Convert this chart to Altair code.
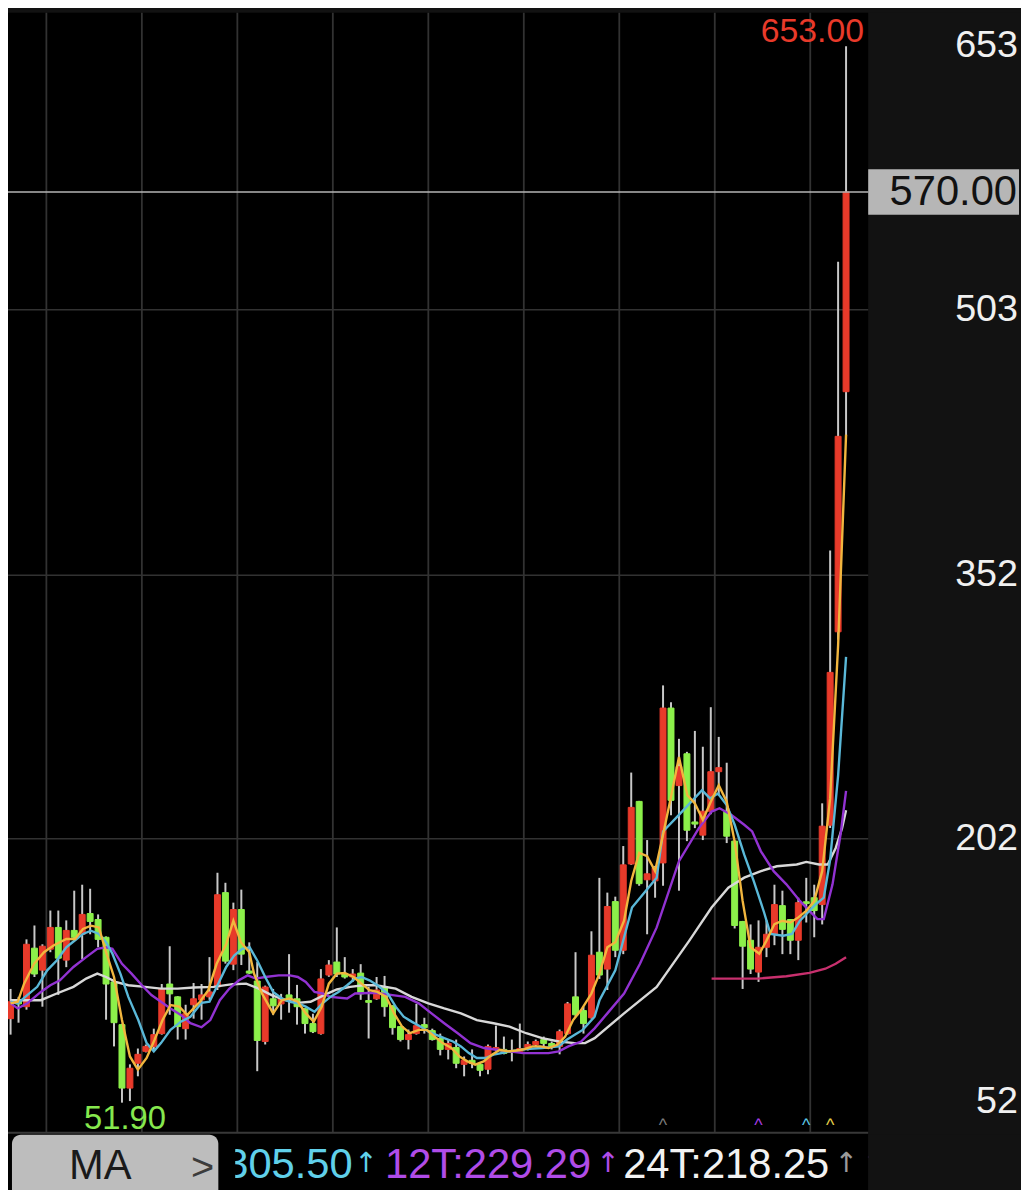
import altair as alt
import pandas as pd

# ---------------- data ----------------
opens = [99.7,110.4,106.5,139.8,127.3,139.2,151.6,133.0,149.9,147.7,
         159.5,156.1,146.0,120.6,96.3,60.2,74.3,81.1,83.9,91.2,
         119.4,112.1,94.0,107.6,110.4,112.1,117.7,171.4,130.7,161.8,
         126.8,121.1,86.7,111.0,108.1,113.2,111.0,105.3,96.9,91.2,
         124.5,131.9,125.1,123.4,125.6,110.0,111.0,117.7,107.0,95.2,
         87.8,91.2,96.3,92.9,88.4,82.2,83.3,73.7,76.0,73.7,
         70.9,82.2,82.2,80.5,81.1,82.7,85.0,87.8,85.6,83.9,
         91.2,112.1,104.3,100.2,137.5,127.9,166.3,138.6,187.7,223.3,
         178.7,178.1,188.3,276.4,232.3,250.4,211.6,204.1,217.7,240.2,
         217.7,200.7,155.0,144.3,126.2,140.3,147.7,164.0,156.1,144.3,
         166.2,168.5,164.6,209.8,319.8,456.4]
highs = [116.6,112.1,144.8,152.7,142.0,161.2,161.2,155.6,172.5,175.9,
         173.6,159.0,146.5,121.0,96.8,73.7,82.7,85.0,94.0,119.4,
         140.9,112.5,107.6,120.0,119.4,134.7,182.7,177.0,165.7,173.1,
         143.1,131.9,118.5,116.6,113.8,136.4,118.9,105.6,102.5,127.9,
         133.0,151.6,134.7,127.9,130.7,117.7,123.4,124.0,107.3,95.5,
         93.5,108.1,100.2,94.0,91.2,87.8,87.8,78.2,82.2,74.3,
         85.0,95.7,89.5,87.8,96.9,86.7,87.8,89.5,86.7,93.5,
         109.2,137.5,106.5,149.4,179.8,171.4,169.1,197.9,239.7,223.6,
         201.3,186.6,289.3,279.7,258.9,251.5,263.4,254.4,276.9,260.0,
         245.3,201.0,155.3,153.3,155.6,155.6,175.9,172.5,156.4,168.5,
         179.8,175.9,222.2,366.1,530.4,653.0]
lows = [90.6,97.4,104.8,123.4,106.5,137.5,113.2,129.0,145.0,133.6,
        147.7,140.3,99.1,83.9,51.9,52.8,66.9,80.5,82.2,90.6,
        101.9,87.8,87.8,99.7,99.1,110.4,116.0,131.0,127.3,130.2,
        125.0,69.8,85.0,101.9,99.1,103.1,96.3,91.2,91.5,90.6,
        123.5,123.4,122.5,120.6,110.4,88.4,110.4,100.8,90.6,86.7,
        82.2,90.6,91.2,87.2,78.8,76.5,71.5,66.9,71.5,66.9,
        68.1,81.1,79.4,75.4,80.5,81.6,83.9,82.7,82.2,79.4,
        90.6,100.8,91.2,99.7,122.3,116.0,134.7,136.4,187.2,175.3,
        147.7,168.5,175.3,215.4,172.5,200.7,208.1,201.3,216.0,226.7,
        199.6,151.0,116.6,125.1,120.6,134.7,141.5,136.4,136.4,133.0,
        154.4,146.0,153.3,208.1,315.3,431.0]
closes = [109.3,108.1,142.0,125.1,140.9,151.6,134.1,149.9,146.0,159.0,
          155.0,144.8,119.4,97.4,60.2,71.5,79.4,83.9,90.6,116.6,
          113.8,95.2,102.5,111.0,113.2,114.9,170.2,132.4,161.8,136.4,
          125.6,87.3,117.7,107.0,111.0,111.0,106.5,96.9,92.3,122.3,
          130.2,125.1,123.4,125.1,113.8,109.0,116.0,106.5,94.6,87.8,
          90.6,95.7,94.6,87.8,82.2,85.6,74.3,76.0,74.3,70.3,
          83.9,83.3,79.9,81.6,82.7,85.0,86.7,85.6,83.9,92.3,
          108.1,101.9,96.9,135.8,124.5,163.5,138.6,187.2,219.9,176.5,
          182.1,185.5,276.4,223.9,243.1,206.9,210.4,217.7,240.2,242.5,
          203.5,152.7,140.9,127.9,140.3,147.7,164.6,150.5,144.3,165.7,
          165.2,161.2,209.2,296.7,431.0,570.0]

# moving-average lines (position in candles, value)
ma3_t = [0,0.9,1.7,2.95,4.2,5.4,7.0,8.1,9.1,10.1,11.1,12.0,13.0,14.0,15.0,16.0,17.1,18.1,19.1,20.1,
         21.2,22.2,23.2,23.8,24.85,25.9,27.1,28.0,28.95,30.0,30.6,31.6,33.0,34.1,35.1,36.1,37.1,38.1,39.1,40.0,
         41.0,42.0,43.1,44.1,45.1,46.1,47.2,48.2,49.2,50.2,51.3,52.3,53.3,54.3,55.4,56.4,57.4,58.4,59.45,60.5,
         61.5,62.5,63.55,64.6,65.6,66.6,67.6,68.7,69.7,70.7,71.7,73.0,74.0,75.0,76.0,77.1,78.0,79.0,80.0,81.0,
         82.0,83.0,84.0,85.05,86.0,87.0,88.0,89.0,90.0,91.0,92.0,93.0,94.1,95.0,96.0,97.0,98.0,99.0,100.0,101.0,
         102.0,103.0,104.0,105.0]
ma3_v = [108.4,109.3,119.6,130.9,137.5,141.3,145.0,145.0,150.7,152.6,151.6,137.5,123.4,98.9,78.2,70.7,77.3,87.7,98.9,107.4,
         106.5,101.8,106.5,109.3,115.9,130.9,142.2,155.4,143.2,137.5,125.3,114.0,102.7,110.2,111.2,109.3,102.7,98.0,106.5,119.6,
         125.3,125.7,123.4,119.6,115.9,114.9,112.1,102.7,95.2,91.4,93.3,93.3,89.5,85.8,83.0,78.2,75.4,73.5,75.4,79.2,
         82.0,81.1,81.6,82.4,83.9,83.9,83.0,84.8,89.5,98.9,104.6,114.0,125.3,140.3,143.2,155.4,178.0,194.0,192.1,183.6,
         204.3,226.0,248.5,226.9,222.2,212.8,223.1,232.5,223.1,200.5,166.7,140.3,136.6,144.1,153.5,155.4,154.4,157.3,161.0,166.7,
         183.6,225.0,312.0,432.0]
ma6_t = [0,0.9,2.1,3.35,4.6,5.8,7.0,8.3,9.1,10.1,11.1,12.0,12.8,13.8,14.8,16.05,17.1,18.0,18.9,20.1,
         21.4,22.6,24.0,25.0,26.1,27.1,28.1,29.1,30.05,31.0,32.0,33.0,34.1,35.1,36.1,37.1,38.2,39.2,40.2,41.2,
         42.3,43.3,44.1,45.1,46.1,47.4,48.4,49.4,50.4,51.5,52.5,53.5,54.5,55.6,56.6,57.6,58.6,59.7,60.7,61.7,
         62.7,64.8,66.8,68.9,69.9,70.9,71.9,73.4,74.0,76.0,78.1,81.2,82.0,84.0,86.9,87.9,88.9,90.0,91.0,92.2,
         93.4,94.7,95.5,97.1,98.2,99.2,100.2,101.2,102.2,103.0,104.0,105.0]
ma6_v = [109.3,108.4,113.1,117.8,127.2,132.8,140.3,145.0,147.9,149.7,147.9,143.2,136.6,125.3,112.1,98.9,85.8,81.1,85.8,93.3,
         98.0,100.8,108.7,109.3,119.6,129.1,135.6,139.4,140.3,132.8,123.4,114.9,111.2,109.3,108.4,106.5,103.6,108.4,112.1,114.9,
         118.7,122.5,123.4,121.5,118.7,114.0,106.5,100.8,98.0,95.2,92.4,90.5,88.6,86.7,83.9,80.1,77.3,77.3,79.2,80.1,
         81.1,82.4,83.0,83.9,87.7,90.5,93.3,100.8,110.0,127.2,162.9,179.9,206.2,215.6,229.7,225.0,227.8,221.2,210.0,193.0,
         178.0,160.1,147.9,146.9,147.9,155.4,160.1,164.8,168.6,190.0,238.0,305.50]
ma12_t = [0,0.9,2.1,3.8,5.0,6.2,7.9,9.5,10.9,12.0,12.8,14.0,15.2,16.5,17.7,18.9,20.1,21.4,22.6,24.0,
          25.1,26.3,27.5,28.7,29.8,30.8,32.0,33.7,35.1,36.1,37.1,38.2,39.2,40.2,42.3,43.3,45.9,48.0,49.6,51.3,
          52.9,54.5,56.2,57.8,59.5,61.1,62.7,64.4,66.0,67.6,68.9,70.1,71.7,73.4,75.0,77.1,79.1,81.2,84.0,86.5,
          88.1,89.1,90.6,92.2,93.2,94.3,95.9,97.5,99.2,100.4,101.4,102.2,103.3,104.3,105.0]
ma12_v = [108.4,105.5,108.4,114.9,118.7,121.5,129.1,134.7,139.4,140.3,139.4,130.9,125.3,118.7,113.1,109.3,105.5,101.8,97.1,94.8,
          98.9,110.2,116.8,121.5,124.3,122.5,123.4,124.3,124.3,123.4,120.6,114.9,114.0,112.1,111.2,114.0,114.4,113.1,112.1,108.4,
          102.7,97.1,91.4,85.8,83.0,82.0,81.1,80.1,80.1,80.1,81.1,83.9,86.7,94.2,102.7,114.0,130.9,151.6,189.3,208.1,
          217.5,219.4,215.6,210.0,206.2,194.9,183.6,176.1,166.7,161.0,156.3,156.3,176.1,204.3,229.29]
ma24_t = [0,1.7,3.8,5.8,7.9,9.5,10.9,12.0,13.2,14.8,16.9,18.9,21.0,23.0,25.5,27.9,29.6,31.2,32.8,34.5,
          36.1,37.7,39.4,41.0,42.7,44.3,45.9,48.4,50.4,52.5,54.5,56.6,58.6,60.7,62.7,64.8,66.8,68.9,70.9,72.2,
          73.4,77.1,81.2,85.3,88.1,90.2,92.2,94.3,96.3,98.8,100.0,101.6,102.7,103.7,104.5,105.0]
ma24_v = [110.2,110.2,110.2,114.0,117.8,122.5,125.3,123.4,120.6,118.7,117.8,116.8,116.8,117.4,117.8,119.3,119.6,116.8,113.1,110.2,
          108.7,109.3,113.1,116.3,117.8,118.7,118.7,116.8,112.1,108.4,105.5,102.7,98.9,97.1,95.2,91.4,88.6,86.7,85.8,85.8,
          88.6,102.7,117.8,144.1,162.9,174.2,179.9,183.6,186.4,187.4,188.9,187.4,187.4,196.8,208.1,218.25]
malong_t = [88.1,91.4,93.9,97.5,100.4,102.4,103.7,105.0]
malong_v = [122.5,122.5,122.5,123.8,125.7,128.1,130.9,134.7]

price_ticks = [653, 503, 352, 202, 52]
grid_prices = [503, 352, 202]
grid_t = [4.5, 16.5, 28.5, 40.5, 52.5, 64.5, 76.5, 88.5, 100.5]
signal_t = [82, 94, 100, 103]
signal_colors = ["#7c7c7c", "#a53de0", "#5cc8e6", "#e6d04a"]
button_label = "MA"
ma_names = ["6T", "12T", "24T"]

# ---------------- styling / layout ----------------
FONT = "Liberation Sans"
RED = "#e83a2a"
GREEN = "#8cf04a"
WICK = "#c8c8c8"
C_MA3 = "#f2b63e"
C_MA6 = "#5ab8d8"
C_MA12 = "#9232d2"
C_MA24 = "#d8d8d8"
C_LONG = "#c8306e"
PANEL = "#121212"

TW, TH = 1021, 1182      # whole picture
PW, PH = 867, 1129       # price plot area inside it

xs = alt.Scale(domain=[0.3, 107.16], range=[0, PW], nice=False, zero=False)
ys = alt.Scale(domain=[34.76, 672.07], range=[PH, 0], nice=False, zero=False)


def X(f):
    return alt.X(f"{f}:Q", scale=xs, axis=None)


def Y(f):
    return alt.Y(f"{f}:Q", scale=ys, axis=None)


one = pd.DataFrame({"k": [0]})
n = len(closes)
candles = pd.DataFrame({"t": list(range(n)), "open": opens, "high": highs,
                        "low": lows, "close": closes})
up = "datum.close >= datum.open"

plot_bg = alt.Chart(one).mark_rect(color="#000000").encode(
    x=alt.value(0), x2=alt.value(PW), y=alt.value(0), y2=alt.value(TH + 20))

vgrid = alt.Chart(pd.DataFrame({"t": grid_t})).mark_rule(color="#323232", strokeWidth=1.8).encode(
    x=X("t"), y=alt.value(0), y2=alt.value(PH))
hgrid = alt.Chart(pd.DataFrame({"p": grid_prices})).mark_rule(color="#323232", strokeWidth=1.5).encode(
    x=alt.value(0), x2=alt.value(PW), y=Y("p"))
separator = alt.Chart(one).mark_rule(color="#383838", strokeWidth=2).encode(
    x=alt.value(0), x2=alt.value(PW), y=alt.value(PH))

wicks = alt.Chart(candles).mark_rule(color=WICK, strokeWidth=2).encode(
    x=X("t"), y=Y("low"), y2=alt.Y2("high:Q"))
bodies = alt.Chart(candles).mark_bar(width=6, strokeWidth=1).encode(
    x=X("t"), y=Y("open"), y2=alt.Y2("close:Q"),
    color=alt.condition(up, alt.value(RED), alt.value(GREEN)),
    stroke=alt.condition(up, alt.value(RED), alt.value(GREEN)))

ma_layers = []
for ts, vs, col in [(malong_t, malong_v, C_LONG), (ma24_t, ma24_v, C_MA24),
                    (ma12_t, ma12_v, C_MA12), (ma6_t, ma6_v, C_MA6), (ma3_t, ma3_v, C_MA3)]:
    df = pd.DataFrame({"t": ts, "v": vs})
    ma_layers.append(alt.Chart(df).mark_line(color=col, strokeWidth=2.4).encode(
        x=X("t"), y=Y("v"), order="t:Q"))

# price axis labels on the right panel
ticks_df = pd.DataFrame({"p": price_ticks, "label": [str(v) for v in price_ticks]})
axis_labels = alt.Chart(ticks_df).mark_text(align="right", baseline="middle", fontSize=38,
                                            font=FONT, color="#f0f0f0").encode(
    x=alt.value(1018), y=Y("p"), text="label:N")

last_df = pd.DataFrame({"p": [closes[-1]], "label": [f"{closes[-1]:.2f}"]})
last_line = alt.Chart(last_df).mark_rule(color="#b4b4b4", strokeWidth=1.5).encode(
    x=alt.value(0), x2=alt.value(PW), y=Y("p"))
last_box = alt.Chart(last_df).mark_rule(color="#b6b6b6", strokeWidth=46, strokeCap="square").encode(
    x=alt.value(PW + 23), x2=alt.value(PW + 152 - 23), y=Y("p"))
last_text = alt.Chart(last_df).mark_text(align="right", baseline="middle", fontSize=42,
                                         font=FONT, color="#111111").encode(
    x=alt.value(PW + 150), y=Y("p"), text="label:N")

hi_i = highs.index(max(highs))
lo_i = lows.index(min(lows))
hi_df = pd.DataFrame({"t": [hi_i], "p": [highs[hi_i]], "label": [f"{highs[hi_i]:.2f}"]})
lo_df = pd.DataFrame({"t": [lo_i], "p": [lows[lo_i]], "label": [f"{lows[lo_i]:.2f}"]})
hi_text = alt.Chart(hi_df).mark_text(align="right", baseline="alphabetic", dx=18, dy=-4,
                                     fontSize=34, font=FONT, color=RED).encode(
    x=X("t"), y=Y("p"), text="label:N")
lo_text = alt.Chart(lo_df).mark_text(align="center", baseline="alphabetic", dx=3, dy=27,
                                     fontSize=33, font=FONT, color="#86e84e").encode(
    x=X("t"), y=Y("p"), text="label:N")

sig_df = pd.DataFrame({"t": signal_t, "c": signal_colors})
signals = alt.Chart(sig_df).mark_text(text="^", fontSize=18, font=FONT, baseline="alphabetic").encode(
    x=X("t"), y=alt.value(PH - 2), color=alt.Color("c:N", scale=None))

# ---------------- bottom MA strip ----------------
base_y = PH + 46
button = alt.Chart(one).mark_rect(color="#bdbdbd", cornerRadius=9).encode(
    x=alt.value(4), x2=alt.value(212), y=alt.value(PH + 2), y2=alt.value(TH + 20))
ma_btn = alt.Chart(one).mark_text(text=button_label, fontSize=42, font=FONT, color="#1a1a1a",
                                  align="center", baseline="alphabetic").encode(
    x=alt.value(93), y=alt.value(base_y + 1))
chev = alt.Chart(one).mark_text(text=">", fontSize=40, font=FONT, color="#3c3c3c",
                                align="center", baseline="alphabetic").encode(
    x=alt.value(196), y=alt.value(base_y + 2))

lbl_specs = [(f"{ma6_v[-1]:.2f}", "#60d0ea", "#60d0ea", 219, 349),
             (f"{ma_names[1]}:{ma12_v[-1]:.2f}", "#b04ce8", "#b04ce8", 380, 593),
             (f"{ma_names[2]}:{ma24_v[-1]:.2f}", "#f2f2f2", "#9a9a9a", 620, 833)]
strip = []
for txt, col, acol, x0, xa_ in lbl_specs:
    strip.append(alt.Chart(one).mark_text(text=txt, fontSize=42, font=FONT, color=col,
                                          align="left", baseline="alphabetic").encode(
        x=alt.value(x0), y=alt.value(base_y)))
    strip.append(alt.Chart(one).mark_text(text="↑", fontSize=28, font="DejaVu Sans",
                                          color=acol, align="left", baseline="alphabetic").encode(
        x=alt.value(xa_), y=alt.value(base_y - 6)))
strip.append(alt.Chart(one).mark_text(text="↑", fontSize=28, font="DejaVu Sans",
                                      color="#e0407a", align="left", baseline="alphabetic").encode(
    x=alt.value(861), y=alt.value(base_y - 6)))
# the scrolled MA list is cut off next to the button and at the price panel
mask_left = alt.Chart(one).mark_rect(color="#000000").encode(
    x=alt.value(213), x2=alt.value(229), y=alt.value(PH + 2), y2=alt.value(TH + 20))
mask_right = alt.Chart(one).mark_rect(color=PANEL).encode(
    x=alt.value(PW), x2=alt.value(TW + 10), y=alt.value(PH + 2), y2=alt.value(TH + 20))

chart = alt.layer(
    plot_bg, vgrid, hgrid, separator, wicks, bodies, *ma_layers,
    last_line, last_box, last_text, axis_labels, hi_text, lo_text, signals,
    button, ma_btn, chev, *strip, mask_left, mask_right,
).properties(
    width=TW, height=TH, background=PANEL,
    padding={"left": 0, "top": 0, "right": 0, "bottom": 0},
    autosize=alt.AutoSizeParams(type="none"),
).configure_view(stroke=None, fill=PANEL)

chart.save("out.html", embed_options={"renderer": "svg", "actions": False})
